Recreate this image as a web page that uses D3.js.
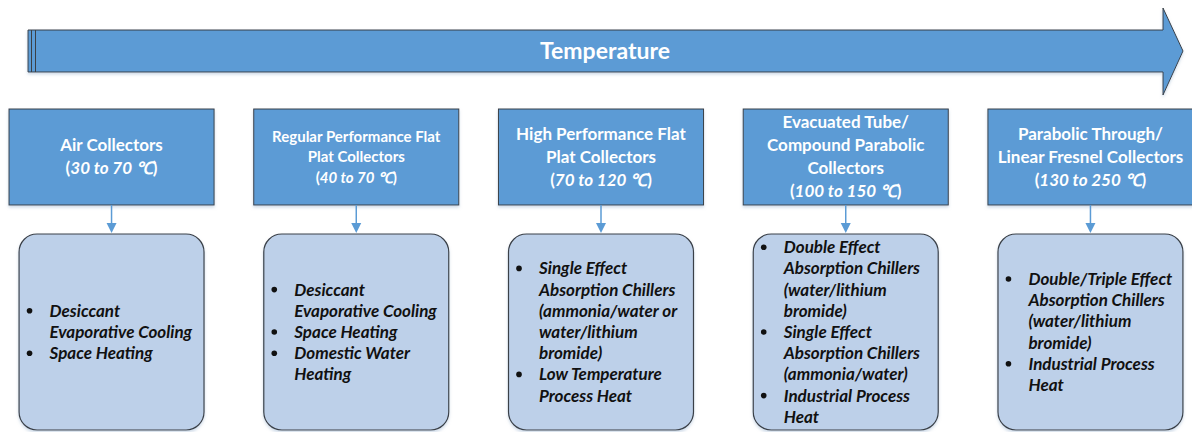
<!DOCTYPE html>
<html>
<head>
<meta charset="utf-8">
<script src="https://cdn.jsdelivr.net/npm/d3@7"></script>
<style>
  body { margin: 0; background: #fff; }
  svg { display: block; font-family: Lato, 'Open Sans', sans-serif; }
</style>
</head>
<body>
<svg id="chart" width="1192" height="432"></svg>
<script>
// collector types, left to right along the temperature axis
const collectors = ['air', 'regular', 'high', 'evacuated', 'parabolic'];

const collectorTitles = [
  ['Air Collectors'],
  ['Regular Performance Flat', 'Plat Collectors'],
  ['High Performance Flat', 'Plat Collectors'],
  ['Evacuated Tube/', 'Compound Parabolic', 'Collectors'],
  ['Parabolic Through/', 'Linear Fresnel Collectors']
];

const tempRanges = ['30 to 70', '40 to 70', '70 to 120', '100 to 150', '130 to 250'];

// each application is a list of wrapped lines
const applications = [
  [['Desiccant', 'Evaporative Cooling'], ['Space Heating']],
  [['Desiccant', 'Evaporative Cooling'], ['Space Heating'], ['Domestic Water', 'Heating']],
  [['Single Effect', 'Absorption Chillers', '(ammonia/water or', 'water/lithium', 'bromide)'], ['Low Temperature', 'Process Heat']],
  [['Double Effect', 'Absorption Chillers', '(water/lithium', 'bromide)'], ['Single Effect', 'Absorption Chillers', '(ammonia/water)'], ['Industrial Process', 'Heat']],
  [['Double/Triple Effect', 'Absorption Chillers', '(water/lithium', 'bromide)'], ['Industrial Process', 'Heat']]
];

const axisLabel = 'Temperature';

const svg = d3.select('#chart');
const blue = '#5b9bd5';
const edge = '#3a3f46';

// horizontal placement of the columns
const x = d3.scaleBand().domain(collectors).range([9, 1193]).paddingInner(0.162);

// --- big temperature arrow ---
const ax0 = 28, ax1 = 1163, tip = 1183, by0 = 30, by1 = 72, hy0 = 8, hy1 = 95;
const ym = (by0 + by1) / 2;
const defs = svg.append('defs');
defs.append('filter').attr('id', 'sh').attr('x', '-5%').attr('y', '-20%').attr('width', '110%').attr('height', '150%')
  .append('feDropShadow').attr('dx', 0).attr('dy', 2).attr('stdDeviation', 1.5).attr('flood-color', '#9fb6d0').attr('flood-opacity', 0.5);

svg.append('path')
  .attr('d', d3.line()([[ax0, by0], [ax1, by0], [ax1, hy0], [tip, ym], [ax1, hy1], [ax1, by1], [ax0, by1]]) + 'Z')
  .attr('fill', blue).attr('stroke', edge).attr('stroke-width', 1).attr('filter', 'url(#sh)');
[31.5, 35.5].forEach(lx => {
  svg.append('line').attr('x1', lx).attr('x2', lx).attr('y1', by0).attr('y2', by1)
    .attr('stroke', edge).attr('stroke-width', 1);
});
svg.append('text').attr('x', 605).attr('y', ym).attr('dy', '0.35em')
  .attr('text-anchor', 'middle').attr('fill', '#fff').attr('font-weight', 700).attr('font-size', 23)
  .text(axisLabel);

// --- collector boxes ---
const topY0 = 109, topY1 = 205, botY0 = 234, botY1 = 430, botW = 185;

const col = svg.selectAll('g.col').data(collectors).enter().append('g').attr('class', 'col');

col.append('rect')
  .attr('x', d => x(d)).attr('y', topY0)
  .attr('width', x.bandwidth()).attr('height', topY1 - topY0)
  .attr('fill', blue).attr('stroke', edge).attr('stroke-width', 1).attr('filter', 'url(#sh)');

col.each(function (d, i) {
  const g = d3.select(this);
  const cx = x(d) + x.bandwidth() / 2;
  const fs = i === 1 ? 15 : 17;
  const lh = i === 1 ? 20.5 : 23;
  const lines = collectorTitles[i].length + 1;
  const yStart = (topY0 + topY1) / 2 - (lines - 1) * lh / 2;
  const t = g.append('text').attr('text-anchor', 'middle').attr('fill', '#fff')
    .attr('font-weight', 700).attr('font-size', fs);
  collectorTitles[i].forEach((ln, k) => {
    t.append('tspan').attr('x', cx).attr('y', yStart + k * lh).attr('dy', '0.35em').text(ln);
  });
  const r = t.append('tspan').attr('x', cx).attr('y', yStart + (lines - 1) * lh).attr('dy', '0.35em');
  r.append('tspan').text('(');
  r.append('tspan').attr('font-style', 'italic').text(tempRanges[i] + ' \u2103');
  r.append('tspan').text(')');

  // connector arrow
  g.append('line').attr('x1', cx).attr('x2', cx).attr('y1', topY1).attr('y2', botY0 - 8)
    .attr('stroke', blue).attr('stroke-width', 1.5);
  g.append('path').attr('d', d3.line()([[cx - 5, botY0 - 11], [cx + 5, botY0 - 11], [cx, botY0 - 1]]) + 'Z')
    .attr('fill', blue);

  // application box
  g.append('rect').attr('x', cx - botW / 2).attr('y', botY0)
    .attr('width', botW).attr('height', botY1 - botY0).attr('rx', 18).attr('ry', 18)
    .attr('fill', '#bdd0e9').attr('stroke', edge).attr('stroke-width', 1.2).attr('filter', 'url(#sh)');

  const blh = 21.2;
  const total = d3.sum(applications[i], a => a.length);
  let yy = 332 - (total - 1) * blh / 2;
  applications[i].forEach(item => {
    g.append('circle').attr('cx', cx - 82).attr('cy', yy).attr('r', 2.8).attr('fill', '#111');
    item.forEach(ln => {
      g.append('text').attr('x', cx - 62).attr('y', yy).attr('dy', '0.35em')
        .attr('font-size', 17).attr('font-weight', 700).attr('font-style', 'italic').attr('fill', '#111')
        .text(ln);
      yy += blh;
    });
  });
});
</script>
</body>
</html>
